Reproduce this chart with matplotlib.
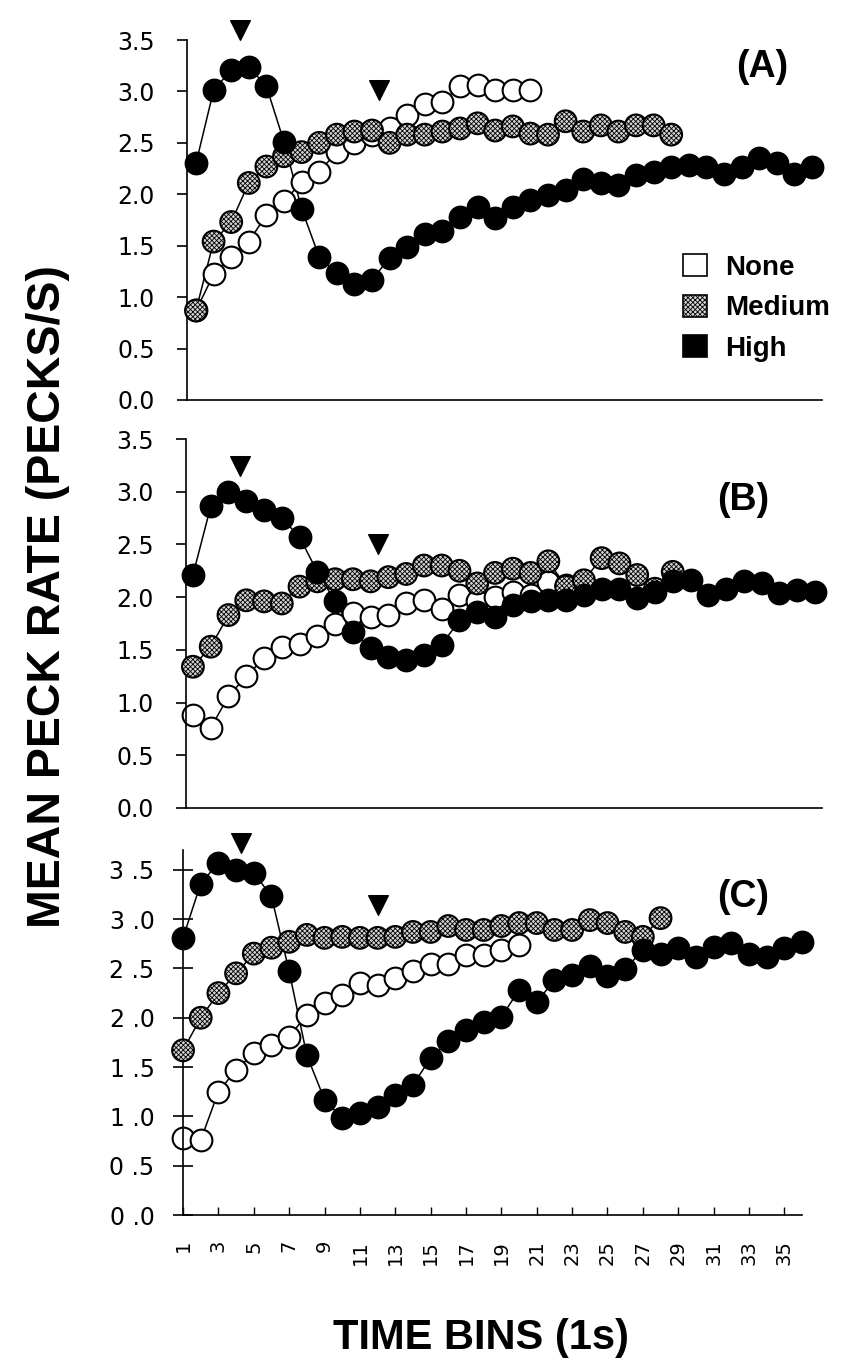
import numpy as np
import matplotlib.pyplot as plt
from matplotlib.patches import Patch

plt.rcParams['hatch.linewidth'] = 0.6

# panel A
a_none = [0.87, 1.22, 1.39, 1.54, 1.80, 1.93, 2.12, 2.22, 2.41, 2.50, 2.58, 2.64, 2.77, 2.88,
          2.90, 3.05, 3.06, 3.01, 3.01, 3.01]
a_medium = [0.87, 1.54, 1.73, 2.11, 2.27, 2.37, 2.41, 2.50, 2.58, 2.61, 2.62, 2.50, 2.58, 2.58,
            2.61, 2.64, 2.69, 2.62, 2.66, 2.59, 2.58, 2.71, 2.61, 2.67, 2.61, 2.67, 2.67, 2.58]
a_high = [2.30, 3.01, 3.21, 3.24, 3.05, 2.51, 1.86, 1.39, 1.23, 1.13, 1.17, 1.38, 1.49, 1.61,
          1.64, 1.78, 1.88, 1.77, 1.88, 1.94, 1.99, 2.04, 2.15, 2.11, 2.09, 2.19, 2.22, 2.27,
          2.28, 2.27, 2.20, 2.27, 2.35, 2.30, 2.20, 2.27]
a_tri_x = [3.5, 11.4]
a_tri_y = [3.6, 3.01]

# panel B
b_none = [0.88, 0.76, 1.06, 1.25, 1.42, 1.53, 1.56, 1.63, 1.75, 1.85, 1.81, 1.83, 1.94, 1.97,
          1.89, 2.02, 1.96, 2.00, 2.05, 2.02, 2.14, 2.12]
b_medium = [1.34, 1.53, 1.83, 1.97, 1.96, 1.94, 2.10, 2.15, 2.17, 2.17, 2.15, 2.19, 2.22, 2.30,
            2.30, 2.25, 2.13, 2.23, 2.27, 2.23, 2.34, 2.10, 2.16, 2.37, 2.32, 2.21, 2.08, 2.24]
b_high = [2.21, 2.86, 3.00, 2.91, 2.83, 2.75, 2.57, 2.24, 1.96, 1.67, 1.52, 1.43, 1.40, 1.45,
          1.55, 1.78, 1.86, 1.81, 1.93, 1.96, 1.97, 1.97, 2.02, 2.08, 2.08, 1.99, 2.05, 2.15,
          2.16, 2.02, 2.08, 2.15, 2.13, 2.04, 2.07, 2.05]
b_tri_x = [3.65, 11.4]
b_tri_y = [3.24, 2.50]

# panel C
c_none = [0.78, 0.76, 1.25, 1.47, 1.64, 1.72, 1.81, 2.03, 2.15, 2.23, 2.35, 2.33, 2.40, 2.47,
          2.55, 2.55, 2.64, 2.64, 2.69, 2.74]
c_medium = [1.67, 2.00, 2.25, 2.45, 2.65, 2.71, 2.77, 2.84, 2.81, 2.82, 2.81, 2.81, 2.82, 2.87,
            2.87, 2.93, 2.89, 2.89, 2.93, 2.96, 2.96, 2.89, 2.89, 2.99, 2.96, 2.87, 2.82, 3.01]
c_high = [2.81, 3.36, 3.57, 3.50, 3.47, 3.23, 2.47, 1.62, 1.17, 0.98, 1.03, 1.10, 1.22, 1.32,
          1.59, 1.76, 1.88, 1.96, 2.01, 2.28, 2.16, 2.38, 2.43, 2.52, 2.42, 2.49, 2.69, 2.65,
          2.71, 2.62, 2.72, 2.76, 2.65, 2.62, 2.71, 2.77]
c_tri_x = [4.3, 12.0]
c_tri_y = [3.77, 3.14]

y_ticks = [0.0, 0.5, 1.0, 1.5, 2.0, 2.5, 3.0, 3.5]
y_labels = ['0.0', '0.5', '1.0', '1.5', '2.0', '2.5', '3.0', '3.5']
y_labels_c = ['0 .0', '0 .5', '1 .0', '1 .5', '2 .0', '2 .5', '3 .0', '3 .5']
x_ticks = list(range(1, 36, 2))

legend_names = ['None', 'Medium', 'High']
panel_names = ['(A)', '(B)', '(C)']

bold_font = 'Liberation Sans'
ms = 245


def draw_panel(ax, none, medium, high, tri_x, tri_y):
    for vals in (none, medium, high):
        ax.plot(np.arange(1, len(vals) + 1), vals, color='black', lw=1.1, zorder=1)
    ax.scatter(np.arange(1, len(none) + 1), none, s=ms, facecolor='white',
               edgecolor='black', linewidths=1.5, zorder=2, clip_on=False)
    ax.scatter(np.arange(1, len(medium) + 1), medium, s=ms, facecolor='#d4d4d4',
               edgecolor='black', hatch='xxxxxxx', linewidths=1.5, zorder=3, clip_on=False)
    ax.scatter(np.arange(1, len(high) + 1), high, s=ms, facecolor='black',
               edgecolor='black', linewidths=1.5, zorder=4, clip_on=False)
    ax.scatter(tri_x, tri_y, s=200, marker='v', color='black', zorder=5, clip_on=False)
    for side in ('top', 'right'):
        ax.spines[side].set_visible(False)
    for side in ('left', 'bottom'):
        ax.spines[side].set_linewidth(1.2)
    ax.set_yticks(y_ticks)
    ax.tick_params(axis='y', labelsize=17, width=1.2)


fig = plt.figure(figsize=(8.47, 13.66), dpi=100)
ax_a = fig.add_axes([0.2208, 0.7072, 0.7497, 0.2635])
ax_b = fig.add_axes([0.2196, 0.4085, 0.7509, 0.2701])
ax_c = fig.add_axes([0.2161, 0.1105, 0.7308, 0.2672])

draw_panel(ax_a, a_none, a_medium, a_high, a_tri_x, a_tri_y)
draw_panel(ax_b, b_none, b_medium, b_high, b_tri_x, b_tri_y)
draw_panel(ax_c, c_none, c_medium, c_high, c_tri_x, c_tri_y)

for ax, lo, hi in ((ax_a, 0.49, 36.57), (ax_b, 0.61, 36.4)):
    ax.set_xlim(lo, hi)
    ax.set_ylim(0, 3.5)
    ax.set_xticks([])
    ax.set_yticklabels(y_labels)
    ax.tick_params(axis='y', direction='out', length=7, pad=16)

ax_c.set_xlim(1, 36)
ax_c.set_ylim(0, 3.7)
ax_c.set_yticklabels(y_labels_c)
ax_c.tick_params(axis='y', direction='inout', length=15, pad=13)
ax_c.set_xticks(x_ticks)
ax_c.set_xticklabels([str(t) for t in x_ticks], rotation=90)
ax_c.tick_params(axis='x', direction='in', length=6, width=1.0, labelsize=14, pad=18)

for ax, name, pos in zip((ax_a, ax_b, ax_c), panel_names,
                         ((762, 67), (743, 500), (743, 897))):
    fig.text(pos[0] / 847, 1 - pos[1] / 1366, name, family=bold_font, weight='bold',
             fontsize=27, ha='center', va='center')

handles = [Patch(facecolor='white', edgecolor='black', lw=1.2),
           Patch(facecolor='#d4d4d4', edgecolor='black', hatch='xxxxxxx', lw=1.2),
           Patch(facecolor='black', edgecolor='black', lw=1.2)]
ax_a.legend(handles, legend_names, loc='upper left', bbox_to_anchor=(683 / 847, 1 - 254 / 1366),
            bbox_transform=fig.transFigure, frameon=False, borderpad=0, borderaxespad=0,
            handlelength=0.85, handleheight=0.85, handletextpad=0.65, labelspacing=0.5,
            prop={'family': bold_font, 'weight': 'bold', 'size': 20})

fig.text(48 / 847, 1 - 597 / 1366, 'MEAN PECK RATE (PECKS/S)', family=bold_font,
         weight='bold', fontsize=33.5, rotation=90, ha='center', va='center')
fig.text(481 / 847, 1 - 1338 / 1366, 'TIME BINS (1s)', family=bold_font,
         weight='bold', fontsize=30, ha='center', va='center')

fig.savefig('out.png', dpi=100)
